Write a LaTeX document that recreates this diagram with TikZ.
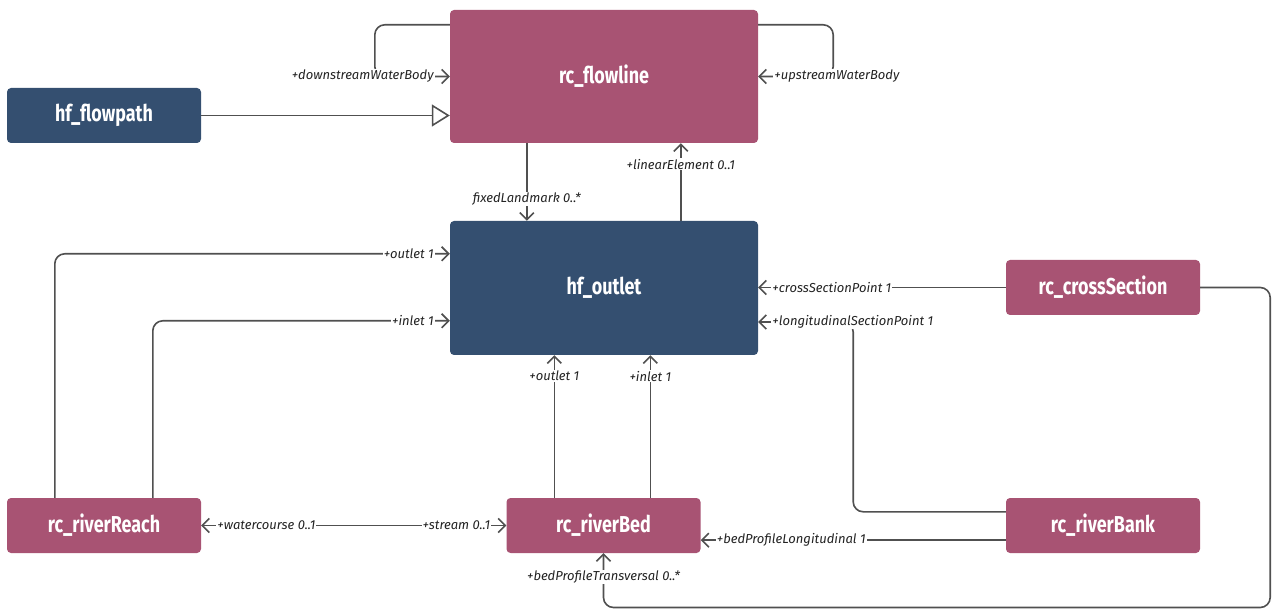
\documentclass[tikz,border=0pt]{standalone}
\usepackage{fontspec}
\setmainfont{Fira Sans}
\newfontfamily\titlefont{Fira Sans}[FakeStretch=0.78]
\usetikzlibrary{arrows.meta,calc}
\definecolor{rcpink}{RGB}{168,83,115}
\definecolor{hfblue}{RGB}{52,79,112}
\definecolor{linegray}{RGB}{80,80,80}
\definecolor{labelgray}{RGB}{35,35,35}
\begin{document}
\begin{tikzpicture}[x=1pt,y=-1pt,
  cls/.style={rounded corners=4pt, minimum width=194pt, minimum height=55pt, inner sep=0pt,
    text=white, font=\titlefont\bfseries\fontsize{23}{25}\selectfont},
  rc/.style={cls, fill=rcpink},
  hf/.style={cls, fill=hfblue},
  assoc/.style={draw=linegray, line width=1.6pt, rounded corners=10pt},
  barb/.tip={Straight Barb[length=7pt,width=14pt,line width=1.6pt]},
  nav/.style={-barb},
  role/.style={font=\itshape\fontsize{13}{15}\selectfont, text=labelgray, fill=white, inner sep=1pt},
]
\useasboundingbox (0,0) rectangle (1278,612);

% classes
\node[rc, minimum width=308pt, minimum height=133pt] (flowline) at (604,76.5) {rc\_flowline};
\node[hf] (flowpath) at (104,115.5) {hf\_flowpath};
\node[hf, minimum width=308pt, minimum height=134pt] (outlet) at (604,288) {hf\_outlet};
\node[rc] (cross) at (1103,287.5) {rc\_crossSection};
\node[rc] (reach) at (104,525.5) {rc\_riverReach};
\node[rc] (bed) at (603.5,525.5) {rc\_riverBed};
\node[rc] (bank) at (1103,525.5) {rc\_riverBank};

% self associations of rc_flowline
\draw[assoc,nav] ($(flowline.north west)+(0,15)$) -- ++(-75,0) |- (flowline.west);
\node[role, anchor=east] (downL) at ($(flowline.west)+(-15,0)$) {+downstreamWaterBody};
\draw[assoc,nav] ($(flowline.north east)+(0,15)$) -- ++(75,0) |- (flowline.east);
\node[role, anchor=west] (upL) at ($(flowline.east)+(15,0)$) {+upstreamWaterBody};

% generalization
\draw[draw=linegray, line width=1.6pt, -{Triangle[open, fill=white, length=18pt, width=22pt, line width=1.6pt]}]
  (flowpath.east) -- (flowpath.east -| flowline.west);

% rc_flowline <-> hf_outlet
\draw[assoc,nav] ($(flowline.south west)+(77,0)$) coordinate (fl1) -- (fl1 |- outlet.north);
\node[role] (fixL) at ($(fl1 |- outlet.north)+(0,-22)$) {fixedLandmark 0..*};
\draw[assoc,nav] ($(outlet.north west)+(231,0)$) coordinate (ol1) -- (ol1 |- flowline.south);
\node[role] (linL) at ($(ol1 |- flowline.south)+(0,21)$) {+linearElement 0..1};

% rc_riverReach -> hf_outlet
\draw[assoc,nav] ($(reach.north west)+(48,0)$) |- ($(outlet.north west)+(0,33)$);
\node[role, anchor=east] (rOutL) at ($(outlet.north west)+(-15,33)$) {+outlet 1};
\draw[assoc,nav] ($(reach.north west)+(146,0)$) |- ($(outlet.north west)+(0,100)$);
\node[role, anchor=east] (rInL) at ($(outlet.north west)+(-15,100)$) {+inlet 1};

% rc_riverBed -> hf_outlet
\draw[assoc,nav] ($(bed.north west)+(48,0)$) coordinate (b1) -- (b1 |- outlet.south);
\node[role] (bOutL) at ($(b1 |- outlet.south)+(0,21)$) {+outlet 1};
\draw[assoc,nav] ($(bed.north west)+(144,0)$) coordinate (b2) -- (b2 |- outlet.south);
\node[role] (bInL) at ($(b2 |- outlet.south)+(0,21)$) {+inlet 1};

% rc_riverReach <-> rc_riverBed
\draw[assoc, barb-barb] (reach.east) -- (bed.west);
\node[role, anchor=west] (wcL) at ($(reach.east)+(15,0)$) {+watercourse 0..1};
\node[role, anchor=east] (stL) at ($(bed.west)+(-15,0)$) {+stream 0..1};

% rc_crossSection
\draw[assoc,nav] (cross.west) -- (cross.west -| outlet.east);
\node[role, anchor=west] (csL) at ($(cross.west -| outlet.east)+(13,0)$) {+crossSectionPoint 1};
\draw[assoc,nav] (cross.east) -- ++(70,0) -- ++(0,320) -| (bed.south);
\node[role] (bptL) at ($(bed.south)+(0,24)$) {+bedProfileTransversal 0..*};

% rc_riverBank
\draw[assoc,nav] ($(bank.north west)+(0,14)$) -| ($(outlet.east)+(95,34)$) -- ($(outlet.east)+(0,34)$);
\node[role, anchor=west] (lspL) at ($(outlet.east)+(13,34)$) {+longitudinalSectionPoint 1};
\draw[assoc,nav] ($(bank.south west)+(0,-13)$) coordinate (k1) -- (k1 -| bed.east);
\node[role, anchor=west] (bplL) at ($(k1 -| bed.east)+(15,0)$) {+bedProfileLongitudinal 1};
\end{tikzpicture}
\end{document}
